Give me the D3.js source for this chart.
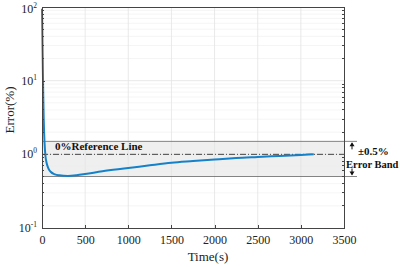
<!DOCTYPE html>
<html lang="en">
<head>
<meta charset="UTF-8"/>
<title>Error vs Time</title>
<script src="https://d3js.org/d3.v7.min.js"></script>
<style>
	body { margin: 0; background: #fff; }
	text { font-family: "Liberation Serif", "Times New Roman", serif; fill: #222; }
	.grid line { stroke: #e3e3e3; stroke-width: 0.8px; }
	.minor line { stroke: #eeeeee; stroke-width: 0.6px; }
	.axis path, .axis line { fill: none; stroke: #444; shape-rendering: crispEdges; }
	.axis text { font-size: 12px; }
	.curve { fill: none; stroke: #1581c8; stroke-width: 2px; }
	.band { fill: #efefef; }
	.bandEdge { stroke: #666; stroke-width: 0.8px; }
	.refLine { stroke: #444; stroke-width: 1px; stroke-dasharray: 6,2,1,2; }
	.note { font-weight: bold; font-size: 11px; fill: #111; }
</style>
</head>
<body>
<div id="chart"></div>
<script>
	var w = 400; // Width
	var h = 267; // Height
	var padL = 42, padR = 344, padT = 7, padB = 228;

	// data
	var time = [0, 3, 6, 10, 15, 20, 30, 40, 55, 75, 100, 150, 200, 300, 400, 500, 700, 1000, 1250, 1500, 1750, 2000, 2250, 2500, 2750, 3000, 3150];
	var errorPct = [95, 55, 30, 14, 6, 3, 1.4, 0.95, 0.75, 0.64, 0.58, 0.535, 0.52, 0.51, 0.52, 0.54, 0.59, 0.65, 0.71, 0.77, 0.81, 0.85, 0.89, 0.92, 0.95, 0.98, 1.0];
	var xTicks = [0, 500, 1000, 1500, 2000, 2500, 3000, 3500];
	var yTicks = [0.1, 1, 10, 100];
	var yTickExp = ["-1", "0", "1", "2"];
	var refValue = 1;
	var bandLow = 0.5, bandHigh = 1.5;

	var data = time.map(function(t, i) { return { t: t, e: errorPct[i] }; });

	var xScale = d3.scaleLinear().domain([0, 3500]).range([padL, padR]);
	var yScale = d3.scaleLog().domain([0.1, 100]).range([padB, padT]);

	var svg = d3.select("#chart").append("svg")
		.attr("width", w)
		.attr("height", h);

	// error band fill
	svg.append("rect")
		.attr("class", "band")
		.attr("x", xScale(0))
		.attr("y", yScale(bandHigh))
		.attr("width", xScale(3500) - xScale(0))
		.attr("height", yScale(bandLow) - yScale(bandHigh));

	// minor log grid
	var minorVals = [];
	[0.1, 1, 10].forEach(function(d) {
		for (var k = 2; k <= 9; k++) minorVals.push(d * k);
	});
	svg.append("g").attr("class", "minor")
		.selectAll("line").data(minorVals).enter().append("line")
		.attr("x1", padL).attr("x2", padR)
		.attr("y1", function(v) { return yScale(v); })
		.attr("y2", function(v) { return yScale(v); });

	// major grid
	var grid = svg.append("g").attr("class", "grid");
	grid.selectAll(".gx").data(xTicks.slice(1, -1)).enter().append("line")
		.attr("x1", function(v) { return xScale(v); })
		.attr("x2", function(v) { return xScale(v); })
		.attr("y1", padT).attr("y2", padB);
	grid.selectAll(".gy").data(yTicks.slice(1, -1)).enter().append("line")
		.attr("x1", padL).attr("x2", padR)
		.attr("y1", function(v) { return yScale(v); })
		.attr("y2", function(v) { return yScale(v); });

	// band edges, running out past the box
	svg.selectAll(".bandEdge").data([bandLow, bandHigh]).enter().append("line")
		.attr("class", "bandEdge")
		.attr("x1", padL).attr("x2", padR + 13)
		.attr("y1", function(v) { return yScale(v); })
		.attr("y2", function(v) { return yScale(v); });

	// reference line
	svg.append("line")
		.attr("class", "refLine")
		.attr("x1", padL).attr("x2", padR)
		.attr("y1", yScale(refValue)).attr("y2", yScale(refValue));

	// curve
	var line = d3.line()
		.x(function(d) { return xScale(d.t); })
		.y(function(d) { return yScale(d.e); })
		.curve(d3.curveMonotoneX);

	svg.append("path")
		.datum(data)
		.attr("class", "curve")
		.attr("d", line);

	// axes
	var xAxis = d3.axisBottom(xScale).tickValues(xTicks).tickSize(-3).tickPadding(7).tickFormat(d3.format("d"));
	svg.append("g").attr("class", "axis")
		.attr("transform", "translate(0," + padB + ")")
		.call(xAxis)
		.call(function(g) { g.select(".domain").remove(); });

	var yAxis = d3.axisLeft(yScale).tickValues(yTicks).tickSize(-3).tickFormat("");
	svg.append("g").attr("class", "axis")
		.attr("transform", "translate(" + padL + ",0)")
		.call(yAxis)
		.call(function(g) { g.select(".domain").remove(); });

	// minor ticks on left and right
	[padL, padR].forEach(function(xp, side) {
		svg.append("g").attr("class", "axis")
			.selectAll("line").data(minorVals).enter().append("line")
			.attr("x1", xp).attr("x2", side === 0 ? xp + 2 : xp - 2)
			.attr("y1", function(v) { return yScale(v); })
			.attr("y2", function(v) { return yScale(v); });
	});

	var lbl = svg.append("g").selectAll("text").data(yTicks).enter().append("text")
		.attr("x", padL - 5)
		.attr("y", function(v) { return Math.max(yScale(v) + 4, 13); })
		.attr("text-anchor", "end")
		.style("font-size", "12px");
	lbl.append("tspan").text("10");
	lbl.append("tspan").attr("dy", -5).style("font-size", "7.5px")
		.text(function(v, i) { return yTickExp[i]; });

	// box
	svg.append("rect")
		.attr("x", padL).attr("y", padT)
		.attr("width", padR - padL).attr("height", padB - padT)
		.attr("fill", "none")
		.attr("stroke", "#444")
		.attr("stroke-width", 1)
		.attr("shape-rendering", "crispEdges");

	// band arrow
	var ax = padR + 8;
	var yHi = yScale(bandHigh), yLo = yScale(bandLow);
	svg.append("line").attr("x1", ax).attr("x2", ax)
		.attr("y1", yHi + 2).attr("y2", yHi + 8)
		.attr("stroke", "#111").attr("stroke-width", 1);
	svg.append("path")
		.attr("d", "M" + (ax - 2.5) + "," + (yHi + 5) + "L" + ax + "," + (yHi + 1) + "L" + (ax + 2.5) + "," + (yHi + 5) + "Z")
		.attr("fill", "#111");
	svg.append("line").attr("x1", ax).attr("x2", ax)
		.attr("y1", yLo - 8).attr("y2", yLo - 2)
		.attr("stroke", "#111").attr("stroke-width", 1);
	svg.append("path")
		.attr("d", "M" + (ax - 2.5) + "," + (yLo - 5) + "L" + ax + "," + (yLo - 1) + "L" + (ax + 2.5) + "," + (yLo - 5) + "Z")
		.attr("fill", "#111");

	svg.append("text").attr("class", "note")
		.attr("x", 358).attr("y", 155).text("±0.5%");
	svg.append("text").attr("class", "note")
		.attr("x", 346).attr("y", 168)
		.style("font-size", "10.5px")
		.text("Error Band");
	svg.append("text").attr("class", "note")
		.attr("x", 55).attr("y", 150).text("0%Reference Line");

	// axis titles
	svg.append("text")
		.attr("x", (padL + padR) / 2 + 15)
		.attr("y", 261)
		.attr("text-anchor", "middle")
		.style("font-size", "13px")
		.text("Time(s)");
	svg.append("text")
		.attr("transform", "translate(14," + yScale(4) + ") rotate(-90)")
		.attr("text-anchor", "middle")
		.style("font-size", "13px")
		.text("Error(%)");
</script>
</body>
</html>
